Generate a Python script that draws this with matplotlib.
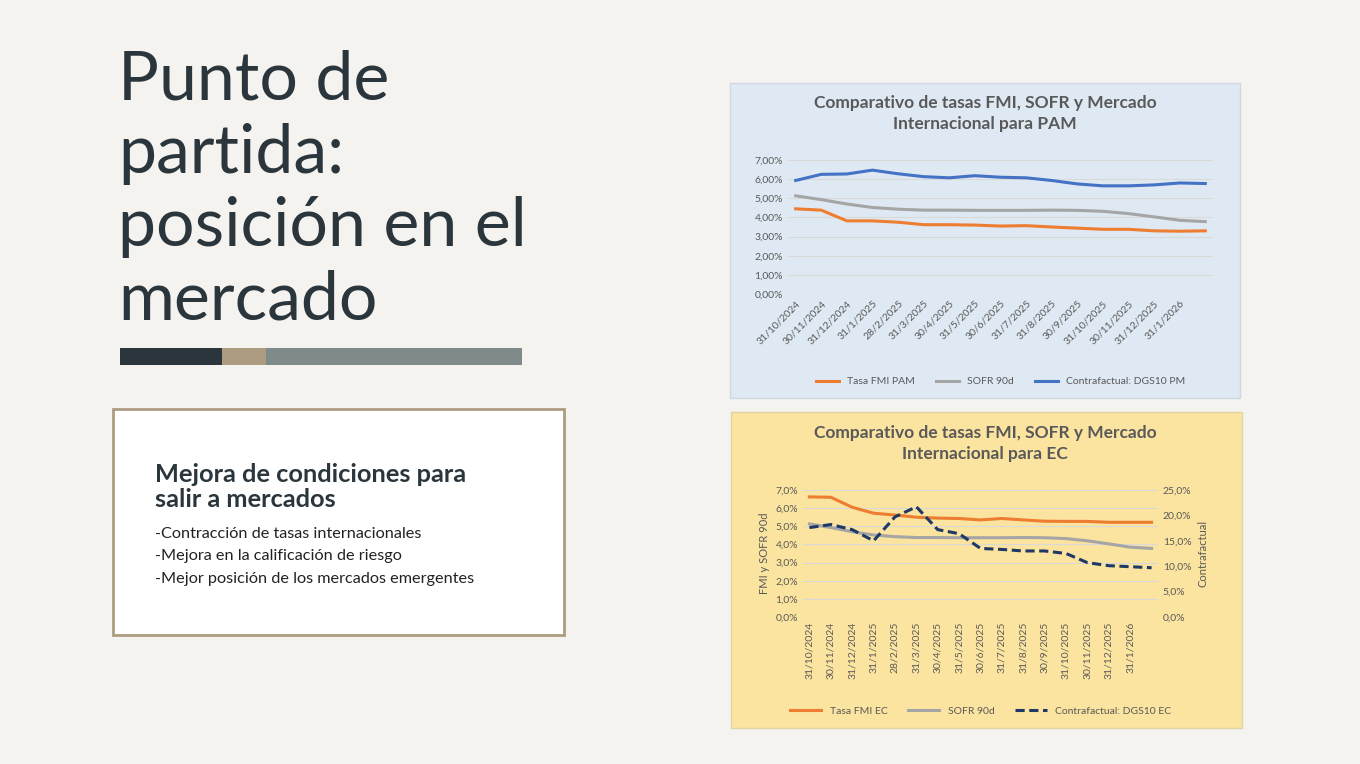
import matplotlib.pyplot as plt
from matplotlib.patches import Rectangle
from matplotlib.ticker import FuncFormatter

plt.rcParams['font.family'] = ['Lato', 'DejaVu Sans']

# %% datos
fechas = ['31/10/2024', '30/11/2024', '31/12/2024', '31/1/2025', '28/2/2025', '31/3/2025',
          '30/4/2025', '31/5/2025', '30/6/2025', '31/7/2025', '31/8/2025', '30/9/2025',
          '31/10/2025', '30/11/2025', '31/12/2025', '31/1/2026', '']
fmi_pam = [4.45, 4.38, 3.82, 3.82, 3.75, 3.62, 3.62, 3.60, 3.55, 3.57, 3.50, 3.44, 3.38, 3.38, 3.30, 3.28, 3.30]
sofr = [5.13, 4.93, 4.70, 4.52, 4.43, 4.38, 4.38, 4.37, 4.37, 4.37, 4.38, 4.37, 4.32, 4.20, 4.03, 3.85, 3.78]
dgs10_pm = [5.93, 6.25, 6.27, 6.47, 6.28, 6.13, 6.07, 6.18, 6.10, 6.07, 5.93, 5.75, 5.65, 5.65, 5.70, 5.80, 5.77]
fmi_ec = [6.62, 6.60, 6.05, 5.72, 5.62, 5.50, 5.45, 5.43, 5.35, 5.43, 5.35, 5.28, 5.27, 5.27, 5.22, 5.22, 5.22]
dgs10_ec = [17.6, 18.2, 17.2, 15.0, 19.7, 21.7, 17.2, 16.4, 13.5, 13.3, 13.0, 13.0, 12.5, 10.7, 10.1, 9.9, 9.7]

W, H = 1360, 764
fig = plt.figure(figsize=(13.6, 7.64), dpi=100)
fig.patch.set_facecolor('#f4f3ef')


def px_axes(x0, y0, x1, y1, **kw):
    ax = fig.add_axes([x0 / W, 1 - y1 / H, (x1 - x0) / W, (y1 - y0) / H], **kw)
    ax.set_zorder(2)
    return ax


def px_rect(x0, y0, x1, y1, fc, ec='none', lw=0):
    fig.patches.append(Rectangle((x0 / W, 1 - y1 / H), (x1 - x0) / W, (y1 - y0) / H,
                                 transform=fig.transFigure, fc=fc, ec=ec, lw=lw, zorder=-1))


# %% lado izquierdo
fig.text(118 / W, 1 - 50 / H, 'Punto de\npartida:\nposición en el\nmercado', fontsize=49,
         color='#2b363c', va='top', ha='left', linespacing=1.22)
px_rect(120, 348, 222, 365, '#2b363c')
px_rect(222, 348, 266, 365, '#ad9c82')
px_rect(266, 348, 522, 365, '#7f8a8a')
px_rect(113, 409, 564, 635, 'white', ec='#ad9c82', lw=2)
fig.text(155 / W, 1 - 463 / H, 'Mejora de condiciones para\nsalir a mercados', fontsize=18.3,
         fontweight='bold', color='#2b363c', va='top', linespacing=1.1)
fig.text(155 / W, 1 - 527 / H, '-Contracción de tasas internacionales\n-Mejora en la calificación de riesgo\n'
         '-Mejor posición de los mercados emergentes', fontsize=11.7, color='#222222',
         va='top', linespacing=1.75)

pct2 = FuncFormatter(lambda v, p: f'{v:.2f}%'.replace('.', ','))
pct1 = FuncFormatter(lambda v, p: f'{v:.1f}%'.replace('.', ','))
x = list(range(len(fechas)))
orange, grey, blue, navy = '#ed7d31', '#a5a5a5', '#4472c4', '#203864'


def style(ax):
    ax.set_facecolor('none')
    for s in ax.spines.values():
        s.set_visible(False)
    ax.grid(axis='y', color='#d9d9d9', lw=0.8)
    ax.tick_params(length=0, labelsize=7.5, colors='#595959')
    ax.set_xlim(-0.3, len(x) - 0.7)
    ax.set_xticks(x[:-1])


# %% grafico superior
px_rect(730, 83, 1240, 398, '#dfe9f3', ec='#d0d8e0', lw=1)
fig.text(985 / W, 1 - 95 / H, 'Comparativo de tasas FMI, SOFR y Mercado\nInternacional para PAM',
         ha='center', va='top', fontsize=12.5, fontweight='bold', color='#595959', linespacing=1.4)
ax1 = px_axes(788, 160, 1213, 294)
style(ax1)
ax1.plot(x, fmi_pam, color=orange, lw=2.2, label='Tasa FMI PAM')
ax1.plot(x, sofr, color=grey, lw=2.2, label='SOFR 90d')
ax1.plot(x, dgs10_pm, color=blue, lw=2.2, label='Contrafactual: DGS10 PM')
ax1.set_ylim(0, 7)
ax1.set_yticks(range(8))
ax1.yaxis.set_major_formatter(pct2)
ax1.set_xticklabels(fechas[:-1], rotation=45, ha='right', rotation_mode='anchor')
ax1.legend(loc='upper center', bbox_to_anchor=(0.5, -0.55), ncol=3, frameon=False,
           fontsize=7.5, handlelength=2.2, labelcolor='#595959')

# %% grafico inferior
px_rect(731, 412, 1242, 728, '#fbe49f', ec='#e0d3a5', lw=1)
fig.text(985 / W, 1 - 425 / H, 'Comparativo de tasas FMI, SOFR y Mercado\nInternacional para EC',
         ha='center', va='top', fontsize=12.5, fontweight='bold', color='#595959', linespacing=1.4)
ax2 = px_axes(803, 490, 1158, 617)
style(ax2)
ax2.plot(x, fmi_ec, color=orange, lw=2.2, label='Tasa FMI EC')
ax2.plot(x, sofr, color=grey, lw=2.2, label='SOFR 90d')
ax2.set_ylim(0, 7)
ax2.set_yticks(range(8))
ax2.yaxis.set_major_formatter(pct1)
ax2.set_ylabel('FMI y SOFR 90d', fontsize=8, color='#595959')
ax2.set_xticklabels(fechas[:-1], rotation=90, ha='center')
ax3 = ax2.twinx()
ax3.set_zorder(3)
ax3.set_facecolor('none')
for s in ax3.spines.values():
    s.set_visible(False)
ax3.plot(x, dgs10_ec, color=navy, lw=2.2, ls=(0, (3, 1.5)), label='Contrafactual: DGS10 EC')
ax3.set_ylim(0, 25)
ax3.set_yticks(range(0, 26, 5))
ax3.yaxis.set_major_formatter(pct1)
ax3.tick_params(length=0, labelsize=7.5, colors='#595959')
ax3.set_ylabel('Contrafactual', fontsize=8, color='#595959')
h = ax2.get_legend_handles_labels()[0] + ax3.get_legend_handles_labels()[0]
ax3.legend(h, [l.get_label() for l in h], loc='upper center', bbox_to_anchor=(0.5, -0.63),
           ncol=3, frameon=False, fontsize=7.5, handlelength=3, labelcolor='#595959')

fig.savefig('out.png', dpi=100, facecolor=fig.get_facecolor())
